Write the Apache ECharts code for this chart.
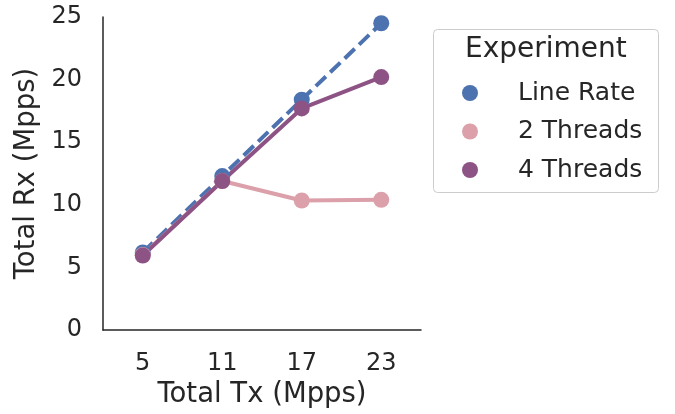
<!DOCTYPE html>
<html><head><meta charset="utf-8">
<script src="https://cdn.jsdelivr.net/npm/echarts@6/dist/echarts.min.js"></script>
<style>html,body{margin:0;padding:0;background:#fff}#c{width:675px;height:414px}</style>
</head><body><div id="c"></div>
<script>
const categories = ['5', '11', '17', '23'];
const lineRate = [6.2, 12.3, 18.4, 24.5];
const twoThreads = [6.0, 11.9, 10.35, 10.4];
const fourThreads = [5.95, 11.9, 17.7, 20.2];
const yTicks = [0, 5, 10, 15, 20, 25];
const seriesNames = ['Line Rate', '2 Threads', '4 Threads'];
const colors = ['#4c72b0', '#dba0a9', '#8e5385'];

const font = 'DejaVu Sans';
const chart = echarts.init(document.getElementById('c'), null, {renderer: 'canvas'});
function mk(name, data, color, dashed) {
  return {
    name, type: 'line', data,
    symbol: 'circle', symbolSize: 16,
    itemStyle: {color},
    lineStyle: {color, width: 4, type: dashed ? [14, 6] : 'solid'},
    emphasis: {disabled: true},
    animation: false
  };
}
chart.setOption({
  animation: false,
  grid: {left: 103, right: 254, top: 17, bottom: 83},
  xAxis: {
    type: 'category', data: categories, boundaryGap: true,
    name: 'Total Tx (Mpps)', nameLocation: 'middle', nameGap: 50,
    nameTextStyle: {fontFamily: font, fontSize: 27.5, color: '#262626'},
    axisLine: {lineStyle: {color: '#262626', width: 1.5}},
    axisTick: {show: false},
    axisLabel: {fontFamily: font, fontSize: 24, color: '#262626', margin: 22},
    splitLine: {show: false}
  },
  yAxis: {
    type: 'value', min: 0, max: 25, interval: 5,
    name: 'Total Rx (Mpps)', nameLocation: 'middle', nameGap: 62,
    nameTextStyle: {fontFamily: font, fontSize: 27.5, color: '#262626'},
    axisLine: {show: true, lineStyle: {color: '#262626', width: 1.5}},
    axisTick: {show: false},
    axisLabel: {fontFamily: font, fontSize: 24, color: '#262626', margin: 21,
      formatter: v => yTicks.includes(v) ? String(v) : ''},
    splitLine: {show: false}
  },
  legend: {
    orient: 'vertical', left: 457, top: 75.5,
    data: seriesNames.map(n => ({name: n, icon: 'circle'})),
    itemWidth: 16, itemHeight: 16, itemGap: 13.5,
    textStyle: {fontFamily: font, fontSize: 25, color: '#262626', padding: [0, 0, 0, 35]},
    selectedMode: false
  },
  graphic: [
    {type: 'rect', shape: {x: 433.5, y: 29.5, width: 225, height: 163, r: 4},
      style: {fill: '#fff', stroke: '#cccccc', lineWidth: 1}, z: -1},
    {type: 'text', left: 465, top: 36,
      style: {text: 'Experiment', font: '28px DejaVu Sans', fill: '#262626'}}
  ],
  series: [
    mk(seriesNames[0], lineRate, colors[0], true),
    mk(seriesNames[1], twoThreads, colors[1], false),
    mk(seriesNames[2], fourThreads, colors[2], false)
  ]
});
</script></body></html>
